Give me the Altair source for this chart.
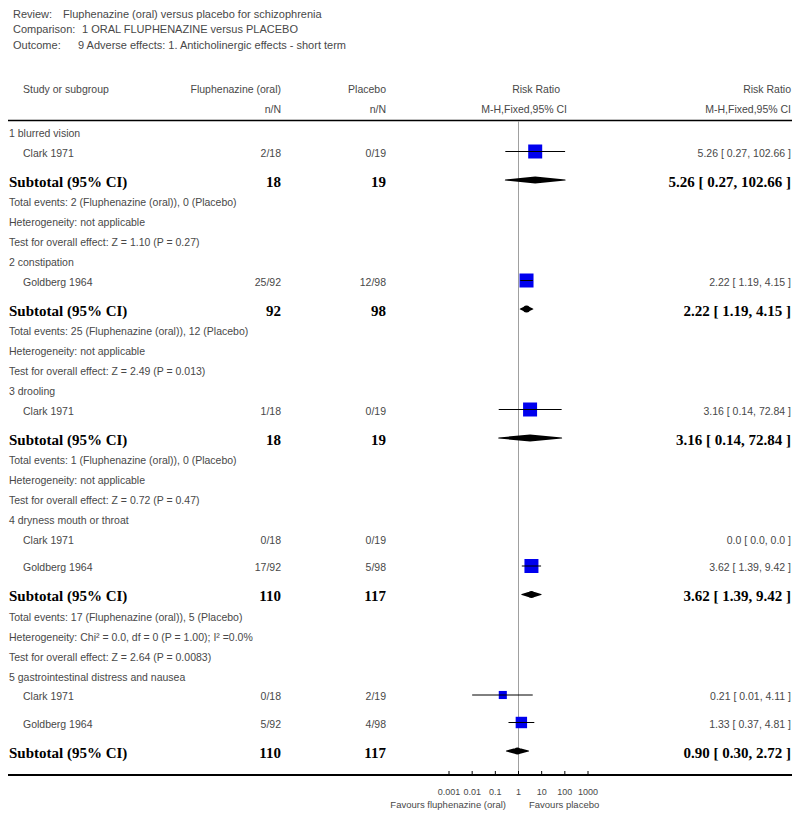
import altair as alt
import pandas as pd

# ---------------- data ----------------
header_keys = ["Review:", "Comparison:", "Outcome:"]
header_vals = ["Fluphenazine (oral) versus placebo for schizophrenia",
               "1 ORAL FLUPHENAZINE versus PLACEBO",
               "9 Adverse effects: 1. Anticholinergic effects - short term"]

row_kind = ["head", "study", "sub", "info", "info", "info",
            "head", "study", "sub", "info", "info", "info",
            "head", "study", "sub", "info", "info", "info",
            "head", "study", "study", "sub", "info", "info", "info",
            "head", "study", "study", "sub"]
row_label = ["1 blurred vision", "Clark 1971", "Subtotal (95% CI)",
             "Total events: 2 (Fluphenazine (oral)), 0 (Placebo)",
             "Heterogeneity: not applicable",
             "Test for overall effect: Z = 1.10 (P = 0.27)",
             "2 constipation", "Goldberg 1964", "Subtotal (95% CI)",
             "Total events: 25 (Fluphenazine (oral)), 12 (Placebo)",
             "Heterogeneity: not applicable",
             "Test for overall effect: Z = 2.49 (P = 0.013)",
             "3 drooling", "Clark 1971", "Subtotal (95% CI)",
             "Total events: 1 (Fluphenazine (oral)), 0 (Placebo)",
             "Heterogeneity: not applicable",
             "Test for overall effect: Z = 0.72 (P = 0.47)",
             "4 dryness mouth or throat", "Clark 1971", "Goldberg 1964", "Subtotal (95% CI)",
             "Total events: 17 (Fluphenazine (oral)), 5 (Placebo)",
             "Heterogeneity: Chi\u00b2 = 0.0, df = 0 (P = 1.00); I\u00b2 =0.0%",
             "Test for overall effect: Z = 2.64 (P = 0.0083)",
             "5 gastrointestinal distress and nausea", "Clark 1971", "Goldberg 1964",
             "Subtotal (95% CI)"]
fluph_nN = ["", "2/18", "18", "", "", "",
            "", "25/92", "92", "", "", "",
            "", "1/18", "18", "", "", "",
            "", "0/18", "17/92", "110", "", "", "",
            "", "0/18", "5/92", "110"]
placebo_nN = ["", "0/19", "19", "", "", "",
              "", "12/98", "98", "", "", "",
              "", "0/19", "19", "", "", "",
              "", "0/19", "5/98", "117", "", "", "",
              "", "2/19", "4/98", "117"]
rr_label = ["", "5.26 [ 0.27, 102.66 ]", "5.26 [ 0.27, 102.66 ]", "", "", "",
            "", "2.22 [ 1.19, 4.15 ]", "2.22 [ 1.19, 4.15 ]", "", "", "",
            "", "3.16 [ 0.14, 72.84 ]", "3.16 [ 0.14, 72.84 ]", "", "", "",
            "", "0.0 [ 0.0, 0.0 ]", "3.62 [ 1.39, 9.42 ]", "3.62 [ 1.39, 9.42 ]", "", "", "",
            "", "0.21 [ 0.01, 4.11 ]", "1.33 [ 0.37, 4.81 ]", "0.90 [ 0.30, 2.72 ]"]
N = None
rr_est = [N, 5.26, 5.26, N, N, N, N, 2.22, 2.22, N, N, N, N, 3.16, 3.16, N, N, N,
          N, N, 3.62, 3.62, N, N, N, N, 0.21, 1.33, 0.90]
rr_lo = [N, 0.27, 0.27, N, N, N, N, 1.19, 1.19, N, N, N, N, 0.14, 0.14, N, N, N,
         N, N, 1.39, 1.39, N, N, N, N, 0.01, 0.37, 0.30]
rr_hi = [N, 102.66, 102.66, N, N, N, N, 4.15, 4.15, N, N, N, N, 72.84, 72.84, N, N, N,
         N, N, 9.42, 9.42, N, N, N, N, 4.11, 4.81, 2.72]
weight = [N, 100.0, N, N, N, N, N, 100.0, N, N, N, N, N, 100.0, N, N, N, N,
          N, 0.0, 100.0, N, N, N, N, N, 33.4, 66.6, N]

tick_values = [0.001, 0.01, 0.1, 1, 10, 100, 1000]
tick_labels = ["0.001", "0.01", "0.1", "1", "10", "100", "1000"]
favours_left = "Favours fluphenazine (oral)"
favours_right = "Favours placebo"

# ---------------- layout ----------------
W, H = 784, 802
GAP = {("head", "study"): 19.5, ("study", "study"): 27.5, ("study", "sub"): 28,
       ("sub", "info"): 21.5, ("info", "info"): 20, ("info", "head"): 20}
ys = [126.0]
for a, b in zip(row_kind[:-1], row_kind[1:]):
    ys.append(ys[-1] + GAP[(a, b)])

df = pd.DataFrame({"kind": row_kind, "label": row_label, "f": fluph_nN, "p": placebo_nN,
                   "rrt": rr_label, "est": rr_est, "lo": rr_lo, "hi": rr_hi,
                   "w": weight, "y": ys})
df["ym"] = df["y"] - 2

SANS = "Liberation Sans"
SERIF = "Liberation Serif"
GREY = "#484848"

xs = alt.Scale(type="log", domain=[0.001, 1000], range=[441, 580], nice=False)
ysc = alt.Scale(domain=[0, H], range=[0, H], nice=False, zero=False)

base = alt.Chart(df)

def txt(t, x, y, align="left", size=10.5, font=SANS, color=GREY, weight="normal"):
    return alt.Chart(pd.DataFrame({"t": [t]})).mark_text(
        align=align, baseline="middle", fontSize=size, font=font, color=color,
        fontWeight=weight).encode(x=alt.value(x), y=alt.value(y), text="t:N")

layers = []
# header block
hy = [7, 22, 38]
hx = [55, 74, 70]
for k, v, yy, xx in zip(header_keys, header_vals, hy, hx):
    layers.append(txt(k, 5, yy, size=11))
    layers.append(txt(v, xx, yy, size=11))
layers += [
    txt("Study or subgroup", 15, 82, size=10.5),
    txt("Fluphenazine (oral)", 273, 82, align="right"),
    txt("Placebo", 378, 82, align="right"),
    txt("Risk Ratio", 552, 82, align="right"),
    txt("Risk Ratio", 783, 82, align="right"),
    txt("n/N", 273, 102, align="right"),
    txt("n/N", 378, 102, align="right"),
    txt("M-H,Fixed,95% CI", 559, 102, align="right"),
    txt("M-H,Fixed,95% CI", 783, 102, align="right"),
]

# horizontal rules
layers.append(alt.Chart(pd.DataFrame({"a": [0]})).mark_rule(color="black", strokeWidth=1.5)
              .encode(x=alt.value(0), x2=alt.value(W), y=alt.value(112.5)))
layers.append(alt.Chart(pd.DataFrame({"a": [0]})).mark_rule(color="black", strokeWidth=2)
              .encode(x=alt.value(0), x2=alt.value(W), y=alt.value(767)))
# reference line at RR = 1
layers.append(alt.Chart(pd.DataFrame({"a": [0]})).mark_rule(color="#a0a0a0", strokeWidth=1)
              .encode(x=alt.X(datum=1, type="quantitative", scale=xs, axis=None),
                      y=alt.value(113), y2=alt.value(767)))

# row text
Y = alt.Y("y:Q", scale=ysc, axis=None)
reg = dict(baseline="middle", fontSize=10.5, font=SANS, color=GREY)
bold = dict(baseline="middle", fontSize=15, font=SERIF, fontWeight="bold", color="black")
layers.append(base.transform_filter("datum.kind == 'head' || datum.kind == 'info'")
              .mark_text(align="left", **reg).encode(x=alt.value(1), y=Y, text="label:N"))
layers.append(base.transform_filter("datum.kind == 'study'")
              .mark_text(align="left", **reg).encode(x=alt.value(15), y=Y, text="label:N"))
layers.append(base.transform_filter("datum.kind == 'sub'")
              .mark_text(align="left", **bold).encode(x=alt.value(1), y=Y, text="label:N"))
for col, xx in [("f", 273), ("p", 378), ("rrt", 783)]:
    layers.append(base.transform_filter("datum.kind == 'study'")
                  .mark_text(align="right", **reg).encode(x=alt.value(xx), y=Y, text=f"{col}:N"))
    layers.append(base.transform_filter("datum.kind == 'sub'")
                  .mark_text(align="right", **bold).encode(x=alt.value(xx), y=Y, text=f"{col}:N"))

# study squares and CIs
st = base.transform_filter("datum.kind == 'study' && datum.w > 0")
layers.append(st.mark_point(shape="square", filled=True, color="#0000ee", opacity=1)
              .encode(x=alt.X("est:Q", scale=xs, axis=None),
                      y=alt.Y("ym:Q", scale=ysc, axis=None),
                      size=alt.Size("w:Q", scale=alt.Scale(domain=[0, 100], range=[0, 196]),
                                    legend=None)))
layers.append(st.mark_rule(color="black", strokeWidth=1)
              .encode(x=alt.X("lo:Q", scale=xs, axis=None), x2="hi:Q",
                      y=alt.Y("ym:Q", scale=ysc, axis=None)))

# diamonds: a trail whose width goes 0 -> full -> 0 across lower CI, estimate, upper CI
sub = df[df["kind"] == "sub"]
drows = []
for i, r in sub.iterrows():
    c = r["ym"] + 0.5
    drows += [dict(g=int(i), o=0, x=r["lo"], yc=c, s=0.0),
              dict(g=int(i), o=1, x=r["est"], yc=c, s=7.0),
              dict(g=int(i), o=2, x=r["hi"], yc=c, s=0.0)]
dia = pd.DataFrame(drows)
layers.append(alt.Chart(dia).mark_trail(color="black", opacity=1)
              .encode(x=alt.X("x:Q", scale=xs, axis=None),
                      y=alt.Y("yc:Q", scale=ysc, axis=None),
                      size=alt.Size("s:Q", scale=alt.Scale(domain=[0, 7], range=[0, 7]),
                                    legend=None),
                      detail="g:N", order="o:Q"))

# axis ticks and labels
tk = pd.DataFrame({"v": tick_values, "l": tick_labels})
layers.append(alt.Chart(tk).mark_rule(color="black", strokeWidth=1)
              .encode(x=alt.X("v:Q", scale=xs, axis=None), y=alt.value(763), y2=alt.value(767)))
layers.append(alt.Chart(tk).mark_text(baseline="middle", align="center", fontSize=9,
                                      font=SANS, color=GREY)
              .encode(x=alt.X("v:Q", scale=xs, axis=None), y=alt.value(784), text="l:N"))
layers.append(txt(favours_left, 498, 797, align="right", size=9.5))
layers.append(txt(favours_right, 521, 797, align="left", size=9.5))

chart = alt.layer(*layers).resolve_scale(size="independent").properties(
    width=W, height=H, padding=0,
    autosize=alt.AutoSizeParams(type="none")
).configure_view(stroke=None)

chart.save("out.html", embed_options={"renderer": "svg", "actions": False})
